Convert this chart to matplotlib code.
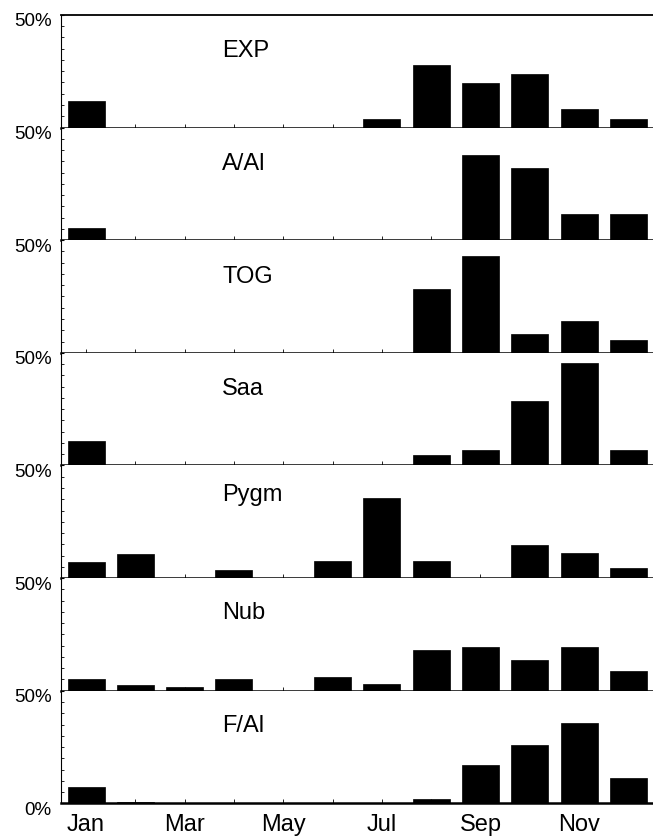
import matplotlib
matplotlib.use("Agg")
import matplotlib.pyplot as plt
import matplotlib.transforms as mtransforms
import numpy as np

plt.rcParams.update({
    "font.family": ["Liberation Sans", "DejaVu Sans"],
})

months = ["Jan", "Feb", "Mar", "Apr", "May", "Jun",
          "Jul", "Aug", "Sep", "Oct", "Nov", "Dec"]
shown_months = ["Jan", "Mar", "May", "Jul", "Sep", "Nov"]

panel_names = ["EXP", "A/Al", "TOG", "Saa", "Pygm", "Nub", "F/Al"]

exp_vals = [11.6, 0, 0, 0, 0, 0, 4.0, 27.8, 19.7, 23.7, 8.1, 4.0]
aal_vals = [5.6, 0, 0, 0, 0, 0, 0, 0, 37.7, 32.0, 11.8, 11.8]
tog_vals = [0, 0, 0, 0, 0, 0, 0, 28.3, 43.0, 8.4, 14.3, 5.9]
saa_vals = [11.0, 0, 0, 0, 0, 0, 0, 4.6, 6.9, 28.5, 45.3, 6.9]
pygm_vals = [7.1, 10.8, 0, 3.8, 0, 7.4, 35.4, 7.4, 0, 14.7, 11.2, 4.4]
nub_vals = [5.0, 2.4, 1.5, 5.0, 0, 5.9, 3.1, 17.9, 19.2, 13.6, 19.5, 8.6]
fal_vals = [7.1, 0.5, 0, 0, 0, 0, 0, 1.9, 17.0, 26.0, 35.7, 11.1]

series = [exp_vals, aal_vals, tog_vals, saa_vals, pygm_vals, nub_vals, fal_vals]

# title baseline height (axes fraction) per panel
title_y = [0.635, 0.628, 0.628, 0.632, 0.69, 0.645, 0.645]

fig, axes = plt.subplots(len(series), 1, figsize=(6.53, 8.37), dpi=100, sharex=True)
fig.subplots_adjust(left=0.094, right=1.0, top=0.981, bottom=0.039, hspace=0)

x = np.arange(1, len(months) + 1)
shift = mtransforms.ScaledTranslation(0, -4 / 100, fig.dpi_scale_trans)

for i, (ax, vals, name) in enumerate(zip(axes, series, panel_names)):
    ax.bar(x, vals, width=0.75, color="black", edgecolor="black", linewidth=0.5)
    ax.set_xlim(0.5, 12.5)
    ax.set_ylim(0, 50)

    ax.text(0.272, title_y[i], name, transform=ax.transAxes,
            fontsize=17, ha="left", va="baseline")

    ax.spines["right"].set_visible(False)
    ax.spines["top"].set_visible(i == 0)
    ax.spines["top"].set_linewidth(1.3)
    ax.spines["bottom"].set_linewidth(1.8)
    ax.spines["left"].set_linewidth(0.8)

    if i == len(series) - 1:
        ax.set_yticks([0, 50])
        ax.set_yticklabels(["0%", "50%"])
    else:
        ax.set_yticks([50])
        ax.set_yticklabels(["50%"])
    ax.set_yticks(np.arange(0, 50, 5), minor=True)
    ax.tick_params(axis="y", which="major", direction="in", length=2,
                   labelsize=13.5, pad=7)
    ax.tick_params(axis="y", which="minor", direction="in", length=2, width=0.6)
    for lab in ax.get_yticklabels():
        lab.set_transform(lab.get_transform() + shift)

    ax.set_xticks(x)
    ax.tick_params(axis="x", which="major", direction="in", length=3, width=0.6,
                   labelsize=17, pad=7)

axes[-1].set_xticklabels([m if m in shown_months else "" for m in months])

fig.savefig("out.png", dpi=100)
